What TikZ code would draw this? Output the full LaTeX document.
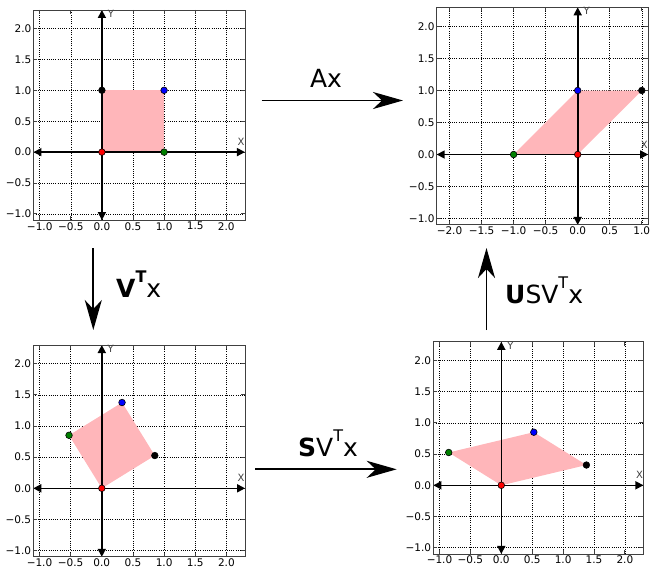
\documentclass[tikz,border=0pt]{standalone}
\usepackage{fontspec}
\setmainfont{DejaVu Sans}
\usepackage{tikz}
\usetikzlibrary{
  arrows.meta,%
  positioning%
}
\definecolor{shapepink}{RGB}{255,182,186}
\definecolor{ptgreen}{RGB}{0,128,0}
\tikzset{
  gridline/.style={black, line width=0.6pt, dash pattern=on 0.8pt off 1.4pt},
  frameline/.style={black!75, line width=0.9pt},
  axisline/.style={black, line width=1.6pt,
    {Triangle[length=8pt,width=8pt]}-{Triangle[length=8pt,width=8pt]}},
  ticklabel/.style={font=\fontsize{10.5}{12}\selectfont, inner sep=2pt},
  axislabel/.style={font=\fontsize{10}{11}\selectfont, black!75, inner sep=0pt},
  bigarrow/.style={line width=1.8pt, -{Stealth[length=30pt,width=17pt,inset=9pt]}},
  maplabel/.style={font=\fontsize{25}{30}\selectfont, inner sep=0pt},
  vdot/.style={draw=black, line width=0.6pt},
}
% superscript T of the labels
\newcommand{\supT}[1]{\raisebox{15pt}{\fontsize{16}{16}\selectfont #1}}
\def\yticks{-1/−1.0,-0.5/−0.5,0/0.0,0.5/0.5,1/1.0,1.5/1.5,2/2.0}
\def\xticksA{-1/−1.0,-0.5/−0.5,0/0.0,0.5/0.5,1/1.0,1.5/1.5,2/2.0}
\def\xticksB{-2/−2.0,-1.5/−1.5,-1/−1.0,-0.5/−0.5,0/0.0,0.5/0.5,1/1.0}
% #1 xmin, #2 xmax, #3 x ticks, #4-#7 red, green, blue, black points
\newcommand{\svdplot}[7]{%
  \foreach \v/\lbl in #3 {%
    \draw[gridline] (\v,-1.1) -- (\v,2.3);%
    \draw[frameline] (\v,-1.1) -- ++(0,4pt) (\v,2.3) -- ++(0,-4pt);%
    \node[ticklabel, below] at (\v,-1.1) {\lbl};%
  }
  \foreach \v/\lbl in \yticks {%
    \draw[gridline] (#1,\v) -- (#2,\v);%
    \draw[frameline] (#1,\v) -- ++(4pt,0) (#2,\v) -- ++(-4pt,0);%
    \node[ticklabel, left] at (#1,\v) {\lbl};%
  }
  \fill[shapepink] (#4) -- (#5) -- (#6) -- (#7) -- cycle;%
  \draw[axisline] (#1,0) -- (#2,0);%
  \draw[axisline] (0,-1.1) -- (0,2.3);%
  \path (#2,0) ++(-4pt,10pt) node[axislabel] {X};%
  \path (0,2.3) ++(9pt,-4pt) node[axislabel] {Y};%
  \fill[red, vdot] (#4) circle (3.3pt);%
  \fill[ptgreen, vdot] (#5) circle (3.3pt);%
  \fill[blue, vdot] (#6) circle (3.3pt);%
  \fill[black, vdot] (#7) circle (3.3pt);%
  \draw[frameline] (#1,-1.1) rectangle (#2,2.3);%
}

\begin{document}
\begin{tikzpicture}[x=1pt, y=-1pt]
  \useasboundingbox (0,0) rectangle (650,568);
  % the four plots
  \begin{scope}[shift={(101.9,152.1)}, x=62.2pt, y=61.8pt]
    \svdplot{-1.1}{2.3}{\xticksA}{0,0}{1,0}{1,1}{0,1}
  \end{scope}
  \begin{scope}[shift={(577.7,154.5)}, x=64.1pt, y=64pt]
    \svdplot{-2.2}{1.1}{\xticksB}{0,0}{-1,0}{0,1}{1,1}
  \end{scope}
  \begin{scope}[shift={(101.8,488.3)}, x=62.3pt, y=62.3pt]
    \svdplot{-1.1}{2.3}{\xticksA}{0,0}{-0.526,0.851}{0.325,1.377}{0.851,0.526}
  \end{scope}
  \begin{scope}[shift={(501.3,485.3)}, x=61.8pt, y=62.4pt]
    \svdplot{-1.1}{2.3}{\xticksA}{0,0}{-0.851,0.526}{0.526,0.851}{1.377,0.325}
  \end{scope}
  % arrows between the plots
  \coordinate (ax-from) at (261.7,100.5);
  \coordinate (ax-to) at (403,100.5);
  \coordinate (vt-from) at (93.3,248);
  \coordinate (vt-to) at (93.3,330);
  \coordinate (svt-from) at (255,469.3);
  \coordinate (svt-to) at (396.7,469.3);
  \coordinate (usvt-from) at (486.5,330);
  \coordinate (usvt-to) at (486.5,248);
  \draw[bigarrow] (ax-from) -- (ax-to);
  \draw[bigarrow] (vt-from) -- (vt-to);
  \draw[bigarrow] (svt-from) -- (svt-to);
  \draw[bigarrow] (usvt-from) -- (usvt-to);
  \node[maplabel, anchor=base] (lblAx) at (326,87) {Ax};
  \node[maplabel, anchor=base west] (lblVt) at (116,297) {\textbf{V}\supT{\textbf{T}}x};
  \node[maplabel, anchor=base] (lblSVt) at (328,456) {\textbf{S}V\supT{T}x};
  \node[maplabel, anchor=base west] (lblUSVt) at (505,303) {\textbf{U}SV\supT{T}x};
\end{tikzpicture}
\end{document}
